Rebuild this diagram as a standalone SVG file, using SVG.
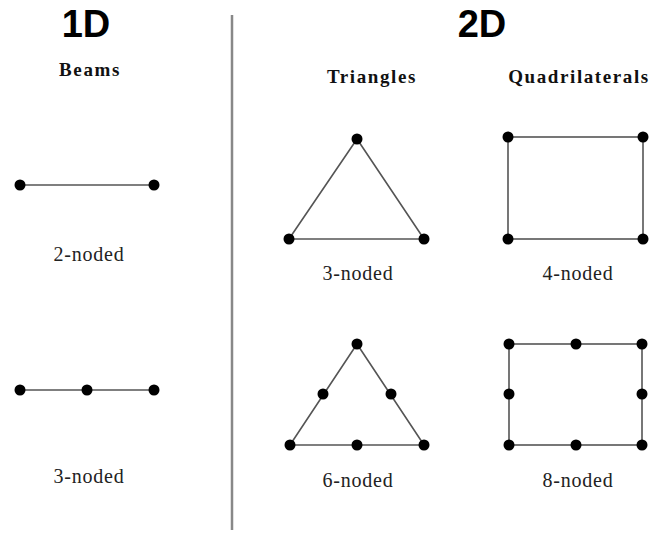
<svg xmlns="http://www.w3.org/2000/svg" width="651" height="535" viewBox="0 0 651 535">
<style>
.h{font-family:"Liberation Sans",Arial,sans-serif;font-weight:bold;font-size:38px;fill:#000;text-anchor:middle}
.sub{font-family:"Liberation Serif","Times New Roman",serif;font-weight:bold;font-size:19px;letter-spacing:1.6px;fill:#111;text-anchor:middle}
.lbl{font-family:"Liberation Serif","Times New Roman",serif;font-size:20px;letter-spacing:0.8px;fill:#222;text-anchor:middle}
.e{stroke:#555;stroke-width:1.6;fill:none}
.n{fill:#000}
</style>
<rect width="651" height="535" fill="#fff"/>
<line x1="232" y1="15" x2="232" y2="530" stroke="#888" stroke-width="2.5"/>
<text class="h" x="86" y="37">1D</text>
<text class="h" x="482" y="37">2D</text>
<text class="sub" x="90" y="76">Beams</text>
<text class="sub" x="372" y="83">Triangles</text>
<text class="sub" x="579" y="83">Quadrilaterals</text>
<g id="connectors">
<line class="e" x1="20" y1="185" x2="154" y2="185"/>
<line class="e" x1="20" y1="390" x2="154" y2="390"/>
<polygon class="e" points="357,139 289,239 424,239"/>
<rect class="e" x="508" y="137" width="135" height="102" stroke="#333"/>
<polygon class="e" points="357,344 290,445 424,445"/>
<rect class="e" x="509" y="344" width="133" height="101"/>
</g>
<g id="beam2">
<circle class="n" cx="20" cy="185" r="5.5"/>
<circle class="n" cx="154" cy="185" r="5.5"/>
<text class="lbl" x="89" y="261">2-noded</text>
</g>
<g id="beam3">
<circle class="n" cx="20" cy="390" r="5.5"/>
<circle class="n" cx="87" cy="390" r="5.5"/>
<circle class="n" cx="154" cy="390" r="5.5"/>
<text class="lbl" x="89" y="483">3-noded</text>
</g>
<g id="tri3">
<circle class="n" cx="357" cy="139" r="5.5"/>
<circle class="n" cx="289" cy="239" r="5.5"/>
<circle class="n" cx="424" cy="239" r="5.5"/>
<text class="lbl" x="358" y="280">3-noded</text>
</g>
<g id="quad4">
<circle class="n" cx="508" cy="137" r="5.5"/>
<circle class="n" cx="643" cy="137" r="5.5"/>
<circle class="n" cx="508" cy="239" r="5.5"/>
<circle class="n" cx="643" cy="239" r="5.5"/>
<text class="lbl" x="578" y="280">4-noded</text>
</g>
<g id="tri6">
<circle class="n" cx="357" cy="344" r="5.5"/>
<circle class="n" cx="290" cy="445" r="5.5"/>
<circle class="n" cx="424" cy="445" r="5.5"/>
<circle class="n" cx="357" cy="445" r="5.5"/>
<circle class="n" cx="323" cy="394" r="5.5"/>
<circle class="n" cx="391" cy="394" r="5.5"/>
<text class="lbl" x="358" y="487">6-noded</text>
</g>
<g id="quad8">
<circle class="n" cx="509" cy="344" r="5.5"/>
<circle class="n" cx="576" cy="344" r="5.5"/>
<circle class="n" cx="642" cy="344" r="5.5"/>
<circle class="n" cx="509" cy="394" r="5.5"/>
<circle class="n" cx="642" cy="394" r="5.5"/>
<circle class="n" cx="509" cy="445" r="5.5"/>
<circle class="n" cx="576" cy="445" r="5.5"/>
<circle class="n" cx="642" cy="445" r="5.5"/>
<text class="lbl" x="578" y="487">8-noded</text>
</g>
</svg>
